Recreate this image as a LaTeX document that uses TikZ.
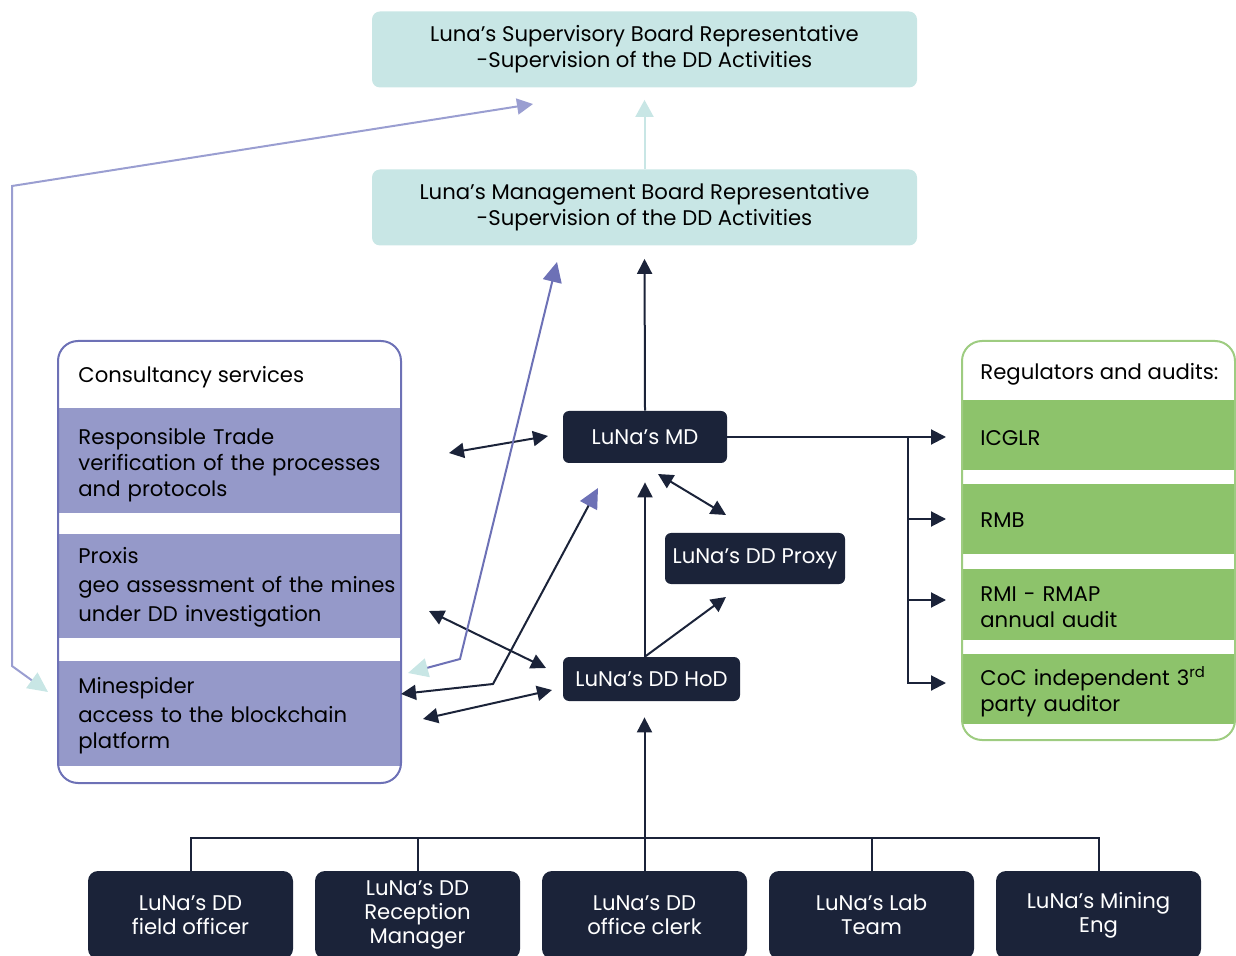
\documentclass[tikz,border=0pt]{standalone}
\usepackage{fontspec}
\setmainfont{Poppins}
\usetikzlibrary{arrows.meta}

\definecolor{navy}{HTML}{1B2339}
\definecolor{mist}{HTML}{C8E6E5}
\definecolor{lilac}{HTML}{9599C9}
\definecolor{iris}{HTML}{6D71B6}
\definecolor{lavender}{HTML}{9A9ED1}
\definecolor{leaf}{HTML}{8DC36B}

\begin{document}
\begin{tikzpicture}[x=0.5pt,y=-0.5pt,>={Triangle[length=7.5pt,width=7.5pt]},node distance=113.5pt,
  every node/.style={font=\fontsize{10.6pt}{13pt}\selectfont},
  board node/.style={fill=mist,rounded corners=4pt,minimum width=272.5pt,minimum height=38pt,align=center},
  dark node/.style={fill=navy,rounded corners=3pt,text=white,align=center},
  staff node/.style={dark node,rounded corners=5pt,minimum width=102.5pt,minimum height=44pt,font=\fontsize{10.6pt}{12pt}\selectfont},
  band node/.style={anchor=west,inner sep=0pt},
  band label/.style={anchor=west,align=left,inner sep=0pt,text width=152pt},
  link/.style={draw=navy,line width=1pt}]
  \useasboundingbox (0,0) rectangle (1236,956);

  % board level
  \node[board node] (sup) at (644.5,49.5) {Luna’s Supervisory Board Representative\\-Supervision of the DD Activities};
  \node[board node] (mgmt) at (644.5,207.5) {Luna’s Management Board Representative\\-Supervision of the DD Activities};

  % DD team
  \node[dark node,minimum width=82pt,minimum height=26pt] (md) at (645,437) {LuNa’s MD};
  \node[dark node,minimum width=90pt,minimum height=25.5pt] (proxy) at (755,558.5) {LuNa’s DD Proxy};
  \node[dark node,minimum width=88.5pt,minimum height=22pt] (hod) at (651.5,679) {LuNa’s DD HoD};

  \node[staff node] (f1) at (190.5,915) {LuNa’s DD\\field officer};
  \node[staff node] (f2) [right of = f1] {LuNa’s DD\\Reception\\Manager};
  \node[staff node] (f3) [right of = f2] {LuNa’s DD\\office clerk};
  \node[staff node] (f4) [right of = f3] {LuNa’s Lab\\Team};
  \node[staff node] (f5) [right of = f4] {LuNa’s Mining\\Eng};

  % consultancy services
  \node[band node,fill=lilac,minimum width=171pt,minimum height=52.5pt] (rt) at (59,460.5) {};
  \node[band node,fill=lilac,minimum width=171pt,minimum height=52pt] (prox) at (59,586) {};
  \node[band node,fill=lilac,minimum width=171pt,minimum height=52.5pt] (mspider) at (59,713.5) {};
  \node[band label] (rtlabel) at (78,465.5) {Responsible Trade\\verification of the processes\\and protocols};
  \node[band label] (proxlabel) at (78,587.5) {Proxis\\[1.5pt]\mbox{geo assessment of the mines}\\[1.5pt]under DD investigation};
  \node[band label] (mslabel) at (78,716) {Minespider\\[1.5pt]access to the blockchain\\platform};
  \node[draw=iris,line width=1pt,rounded corners=10pt,minimum width=171.5pt,minimum height=221pt] (cons) at (229.5,562) {};
  \node[anchor=west,inner sep=0pt] (constitle) at (78,377) {Consultancy services};

  % regulators and audits
  \node[band node,fill=leaf,minimum width=136.5pt,minimum height=35pt] (icg) at (962,435) {};
  \node[band node,fill=leaf,minimum width=136.5pt,minimum height=35pt] (rmb) at (962,519) {};
  \node[band node,fill=leaf,minimum width=136.5pt,minimum height=35.5pt] (rmi) at (962,604.5) {};
  \node[band node,fill=leaf,minimum width=136.5pt,minimum height=35pt] (coc) at (962,689) {};
  \node[band label,text width=118.5pt] (icglabel) at (980,438) {ICGLR};
  \node[band label,text width=118.5pt] (rmblabel) at (980,520) {RMB};
  \node[band label,text width=118.5pt] (rmilabel) at (980,607.5) {RMI - RMAP\\annual audit};
  \node[band label,text width=118.5pt] (coclabel) at (980,692) {\mbox{CoC independent 3\textsuperscript{rd}}\\party auditor};
  \node[draw=leaf!85!white,line width=1pt,rounded corners=10pt,minimum width=136.5pt,minimum height=199.5pt] (reg) at (1098.5,540.5) {};
  \node[anchor=west,inner sep=0pt] (regtitle) at (980,374) {Regulators and audits:};

  % free ends
  \coordinate (split) at (908,437);
  \coordinate (rta) at (449,453);
  \coordinate (mda) at (548,436);
  \coordinate (pxa) at (429,611);
  \coordinate (hda) at (546,668);
  \coordinate (msa) at (423,719);
  \coordinate (hdb) at (552,690);
  \coordinate (mdb) at (658,474);
  \coordinate (pxt) at (726,515);
  \coordinate (pxb) at (726,597);
  \coordinate (msb) at (401,694);
  \coordinate (bend) at (493,684);
  \coordinate (mdc) at (598,488);
  \coordinate (msc) at (408,673);
  \coordinate (kink) at (460,659);
  \coordinate (mgc) at (557,262);
  \coordinate (msd) at (48,692);
  \coordinate (lowleft) at (12,666);
  \coordinate (upleft) at (12,186);
  \coordinate (supc) at (533,104);

  % reporting lines
  \draw[mist,line width=1pt,-{Triangle[length=8.5pt,width=9pt]},shorten >=6pt] (mgmt.north) -- (sup.south);
  \draw[link,->,shorten >=6.5pt] (md.north) -- (mgmt.south);
  \draw[link,->,shorten >=9.5pt] (md.south |- hod.north) -- (md.south);
  \draw[link,<->] (mdb) -- (pxt);
  \draw[link,->] (md.south |- hod.north) -- (pxb);

  \draw[link] (f1.north) -- ++(0,-33) -| (f5.north);
  \draw[link] (f2.north) -- ++(0,-33);
  \draw[link] (f4.north) -- ++(0,-33);
  \draw[link,->,shorten >=8pt] (f3.north) -- (f3.north |- hod.south);

  \draw[link,->,shorten >=8pt] (md.east) -- (md.east -| icg.west);
  \draw[link,->,shorten >=8pt] (split) |- (rmb.west);
  \draw[link,->,shorten >=8pt] (split) |- ([yshift=2.25pt]rmi.west);
  \draw[link,->,shorten >=8pt] (split) |- ([yshift=3pt]coc.west);

  \draw[link,<->] (rta) -- (mda);
  \draw[link,<->] (pxa) -- (hda);
  \draw[link,<->] (msa) -- (hdb);
  \draw[link,{Triangle[length=7.5pt,width=7.5pt]}-{Triangle[length=10pt,width=9.5pt,color=iris,fill=iris]}] (msb) -- (bend) -- (mdc);
  \draw[iris,line width=1pt,{Triangle[length=10pt,width=9.5pt,color=mist,fill=mist]}-{Triangle[length=10pt,width=9.5pt]}] (msc) -- (kink) -- (mgc);
  \draw[lavender,line width=1pt,{Triangle[length=10pt,width=9.5pt,color=mist,fill=mist]}-{Triangle[length=8pt,width=8pt]}] (msd) -- (lowleft) -- (upleft) -- (supc);
\end{tikzpicture}
\end{document}
